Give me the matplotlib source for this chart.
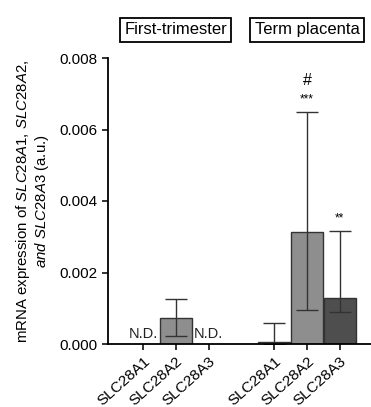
import matplotlib
matplotlib.use("Agg")
import matplotlib.pyplot as plt
import numpy as np

plt.rcParams['font.family'] = ['Liberation Sans', 'DejaVu Sans']
plt.rcParams['mathtext.fontset'] = 'custom'
plt.rcParams['mathtext.rm'] = 'Liberation Sans'
plt.rcParams['mathtext.it'] = 'Liberation Sans:italic'

genes = ["SLC28A1", "SLC28A2", "SLC28A3"]
groups = ["First-trimester", "Term placenta"]
first_vals = [np.nan, 0.00074, np.nan]
first_low = [np.nan, 0.00023, np.nan]
first_high = [np.nan, 0.00127, np.nan]
term_vals = [0.00006, 0.00314, 0.00128]
term_low = [0.0, 0.00095, 0.00089]
term_high = [0.00058, 0.0065, 0.00317]
term_marks = ["", "***", "**"]
colors = ["#ffffff", "#8e8e8e", "#4e4e4e"]

fig = plt.figure(figsize=(3.71, 4.07), dpi=100)
ax = fig.add_axes([108/371, 1-344/407, (371-108)/371, (344-58)/407])

pos_first = np.array([0, 1, 2])
pos_term = np.array([4, 5, 6])
w = 0.98
ec = "#333333"

for i in range(3):
    if not np.isnan(first_vals[i]):
        ax.bar(pos_first[i], first_vals[i], w, color=colors[i], edgecolor=ec, linewidth=1)
        ax.errorbar(pos_first[i], first_vals[i],
                    yerr=[[first_vals[i]-first_low[i]], [first_high[i]-first_vals[i]]],
                    color=ec, capsize=8, linewidth=1, capthick=1)
    else:
        ax.text(pos_first[i], 0.00008, "N.D.", ha='center', va='bottom', fontsize=10.5, color='#222222')
for i in range(3):
    ax.bar(pos_term[i], term_vals[i], w, color=colors[i], edgecolor=ec, linewidth=1)
    ax.errorbar(pos_term[i], term_vals[i],
                yerr=[[term_vals[i]-term_low[i]], [term_high[i]-term_vals[i]]],
                color=ec, capsize=8, linewidth=1, capthick=1)
    if term_marks[i]:
        ax.text(pos_term[i], term_high[i] + 0.00034, term_marks[i], ha='center', va='center', fontsize=8.5)
ax.text(pos_term[1], 0.00738, "#", ha='center', va='center', fontsize=11.5)

ax.set_xlim(-1.07, 6.95)
ax.set_ylim(0, 0.008)
ax.set_yticks([0, 0.002, 0.004, 0.006, 0.008])
ax.set_yticklabels(["0.000", "0.002", "0.004", "0.006", "0.008"], fontsize=11)
ax.set_xticks(list(pos_first) + list(pos_term))
ax.set_xticklabels(genes + genes, rotation=42, ha='right', rotation_mode='anchor', fontsize=11)
ax.spines['top'].set_visible(False)
ax.spines['right'].set_visible(False)
ax.spines['left'].set_linewidth(1.3)
ax.spines['bottom'].set_linewidth(1.3)
ax.tick_params(axis='both', width=1.2, length=4, color='#111111')

ax.set_ylabel(r"mRNA expression of $\mathit{SLC28A1}$, $\mathit{SLC28A2}$," "\n" r"$\mathit{and\ SLC28A3}$ (a.u.)",
              fontsize=10.8, linespacing=1.15)
ax.yaxis.set_label_coords(-0.215, 0.50)

for name, xc in zip(groups, [1, 5]):
    ax.text(xc, 1.098, name, transform=ax.get_xaxis_transform(), ha='center', va='center', fontsize=12,
            bbox=dict(boxstyle='square,pad=0.25', facecolor='white', edgecolor='black', linewidth=1.3))

fig.savefig("out.png", dpi=100)
